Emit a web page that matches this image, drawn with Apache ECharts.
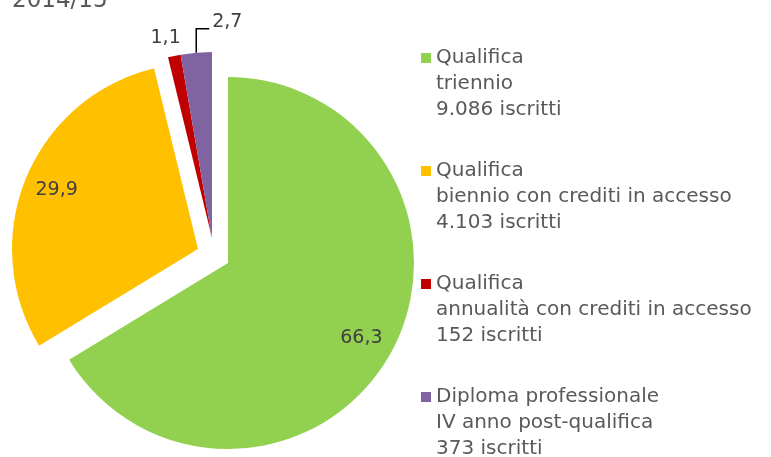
<!DOCTYPE html>
<html>
<head>
<meta charset="utf-8">
<script src="https://cdn.jsdelivr.net/npm/echarts@6/dist/echarts.min.js"></script>
<style>
html, body { margin: 0; padding: 0; background: #fff; }
#chart { width: 771px; height: 457px; }
</style>
</head>
<body>
<div id="chart"></div>
<script>
var titolo = '2014/15';
var qualifiche = ['Qualifica', 'Qualifica', 'Qualifica', 'Diploma professionale'];
var percorsi = ['triennio', 'biennio con crediti in accesso', 'annualità con crediti in accesso', 'IV anno post-qualifica'];
var iscritti = [9086, 4103, 152, 373];
var percentuali = [66.3, 29.9, 1.1, 2.7];

var colori = ['#92D050', '#FFC000', '#C00000', '#8064A2'];
var font = 'DejaVu Sans';

function migliaia(n) { return String(n).replace(/\B(?=(\d{3})+(?!\d))/g, '.'); }
function virgola(v) { return String(v).replace('.', ','); }

var nomi = qualifiche.map(function (q, i) {
    return q + '\n' + percorsi[i] + '\n' + migliaia(iscritti[i]) + ' iscritti';
});

// one pie per group of slices, so each group is pulled out by its own amount
var gruppi = [
    { center: [228, 263], show: [0] },
    { center: [198, 249], show: [1] },
    { center: [212, 238], show: [2, 3] }
];

function serie(g) {
    return {
        type: 'pie',
        center: g.center,
        radius: 186,
        startAngle: 90,
        silent: true,
        animation: false,
        avoidLabelOverlap: false,
        label: {
            fontFamily: font,
            fontSize: 19,
            color: '#404040',
            formatter: function (p) { return virgola(p.value); }
        },
        labelLine: { lineStyle: { color: '#000', width: 1.5 } },
        labelLayout: function (p) {
            var i = p.dataIndex, c = g.center;
            if (g.show.indexOf(i) < 0) return {};
            if (i <= 1) {
                // push the inner labels out towards the rim
                var lx = p.labelRect.x + p.labelRect.width / 2;
                var ly = p.labelRect.y + p.labelRect.height / 2;
                var k = 153 / Math.hypot(lx - c[0], ly - c[1]);
                return { x: c[0] + (lx - c[0]) * k, y: c[1] + (ly - c[1]) * k };
            }
            if (i === 2) return { align: 'center' };
            if (!p.labelLinePoints || !p.labelLinePoints.length) return {};
            var a = p.labelLinePoints[0];
            var b = [a[0], a[1] - 24];
            var e = [b[0] + 13, b[1]];
            return { x: e[0] + 3, y: e[1] - 7, align: 'left', verticalAlign: 'middle', labelLinePoints: [a, b, e] };
        },
        data: percentuali.map(function (v, i) {
            var vis = g.show.indexOf(i) >= 0;
            return {
                name: nomi[i],
                value: v,
                itemStyle: { color: vis ? colori[i] : 'rgba(0,0,0,0)' },
                label: { show: vis, position: i <= 1 ? 'inside' : 'outside' },
                labelLine: { show: vis && i === 3, length: i === 2 ? 18 : 24, length2: i === 2 ? 0 : 13 }
            };
        })
    };
}

var chart = echarts.init(document.getElementById('chart'));
var option = {
    backgroundColor: '#fff',
    title: {
        text: titolo,
        left: 12,
        top: -10,
        padding: 0,
        textStyle: { fontFamily: font, fontSize: 23, fontWeight: 'normal', color: '#595959' }
    },
    legend: {
        orient: 'vertical',
        left: 421,
        top: 45,
        height: 520,
        padding: 0,
        itemWidth: 10,
        itemHeight: 62,
        itemGap: 35,
        // square at the top of a tall box, so it sits beside the first text line
        icon: 'path://M0,0h10v10h-10zM0,62',
        selectedMode: false,
        data: nomi.map(function (n, i) {
            return { name: n, itemStyle: { color: colori[i] } };
        }),
        textStyle: {
            fontFamily: font,
            fontSize: 20,
            color: '#595959',
            lineHeight: 26
        }
    },
    series: gruppi.map(serie)
};
chart.setOption(option);
</script>
</body>
</html>
